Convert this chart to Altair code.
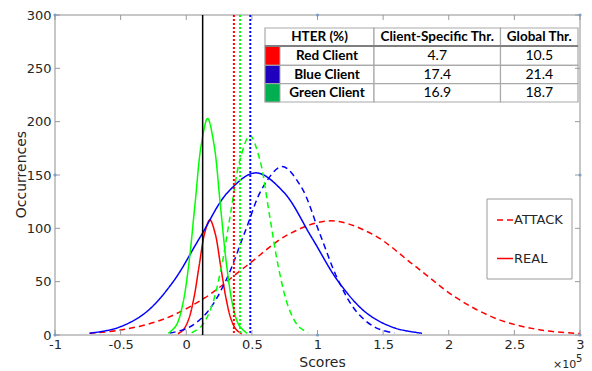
import altair as alt
import pandas as pd

# ---------------- data ----------------
red_real_x = [-0.063, -0.023, 0.018, 0.059, 0.099, 0.14, 0.18, 0.22, 0.261, 0.302, 0.342, 0.383, 0.423]
red_real_y = [1.2, 4.7, 14.6, 35.1, 65.5, 95.3, 108, 95.3, 65.5, 35.1, 14.6, 4.7, 1.2]

red_attack_x = [-0.737, -0.5, -0.18, 0.14, 0.46, 0.78, 1.1, 1.42, 1.74, 2.06, 2.38, 2.7, 3.0]
red_attack_y = [1.7, 4.7, 14.5, 34.7, 64.9, 94.4, 107, 94.4, 64.9, 34.7, 14.5, 4.7, 1.3]

blue_real_x = [-0.736, -0.525, -0.314, -0.103, 0.108, 0.319, 0.53, 0.741, 0.952, 1.163, 1.374, 1.585, 1.796]
blue_real_y = [1.7, 6.7, 20.6, 49.4, 92.2, 134.1, 152, 134.1, 92.2, 49.4, 20.6, 6.7, 1.7]

blue_attack_x = [-0.125, 0.018, 0.16, 0.303, 0.445, 0.588, 0.73, 0.873, 1.015, 1.158, 1.3, 1.443, 1.585]
blue_attack_y = [1.8, 6.9, 21.4, 51.3, 95.8, 139.4, 158, 139.4, 95.8, 51.3, 21.4, 6.9, 1.8]

green_real_x = [-0.137, -0.077, -0.029, 0.019, 0.067, 0.115, 0.163, 0.211, 0.259, 0.307, 0.355, 0.403, 0.463]
green_real_y = [1.5, 8.9, 27.5, 65.9, 123, 179, 203, 179, 123, 65.9, 27.5, 8.9, 1.5]

green_attack_x = [0.041, 0.115, 0.189, 0.263, 0.337, 0.411, 0.485, 0.559, 0.633, 0.707, 0.781, 0.855, 0.929]
green_attack_y = [2.1, 8.2, 25.3, 60.7, 113.4, 165, 187, 165, 113.4, 60.7, 25.3, 8.2, 2.1]

threshold_x = [0.125, 0.363, 0.41, 0.488]
threshold_kind = ["global", "red", "green", "blue"]

x_ticks = [-1, -0.5, 0, 0.5, 1, 1.5, 2, 2.5, 3]
y_ticks = [0, 50, 100, 150, 200, 250, 300]

table_header = ["HTER (%)", "Client-Specific  Thr.", "Global  Thr."]
table_clients = ["Red Client", "Blue Client", "Green Client"]
table_client_specific = ["4.7", "17.4", "16.9"]
table_global = ["10.5", "21.4", "18.7"]

legend_labels = ["ATTACK", "REAL"]

marker_x = [-1, 1, 3, -1, 1, 3, -1, 3]
marker_y = [0, 0, 0, 300, 300, 300, 150, 150]

# ---------------- styling ----------------
W, H = 525, 320
RED, BLUE, GREEN = "#ff0000", "#0000ff", "#00ff00"
TXT = "#262626"
FONT = "DejaVu Sans"
TFONT = "Lato"

curve_defs = [
    ("red_real", RED, "REAL", red_real_x, red_real_y),
    ("red_attack", RED, "ATTACK", red_attack_x, red_attack_y),
    ("blue_real", BLUE, "REAL", blue_real_x, blue_real_y),
    ("blue_attack", BLUE, "ATTACK", blue_attack_x, blue_attack_y),
    ("green_real", GREEN, "REAL", green_real_x, green_real_y),
    ("green_attack", GREEN, "ATTACK", green_attack_x, green_attack_y),
]
rows = []
for name, col, kind, xv, yv in curve_defs:
    for i, (a, b) in enumerate(zip(xv, yv)):
        rows.append({"series": name, "color": col, "kind": kind, "x": a, "y": b, "i": i})
curves_df = pd.DataFrame(rows)

xs = alt.Scale(domain=[-1, 3], nice=False, zero=False)
ys = alt.Scale(domain=[0, 300], nice=False, zero=False)

curves = alt.Chart(curves_df).mark_line(strokeWidth=1.5, interpolate="catmull-rom", clip=True).encode(
    x=alt.X("x:Q", scale=xs, axis=alt.Axis(
        values=x_ticks, labelExpr="datum.value + ''", title="Scores", labelFlush=False,
        titleX=267, titleY=27, titleAlign="center", titleBaseline="middle",
        labelPadding=3)),
    y=alt.Y("y:Q", scale=ys, axis=alt.Axis(
        values=y_ticks, title="Occurrences", labelFlush=False,
        titleX=-34, titleY=159, titleAngle=-90, titleAlign="center", titleBaseline="middle",
        labelPadding=4)),
    color=alt.Color("color:N", scale=None),
    strokeDash=alt.StrokeDash("kind:N", scale=alt.Scale(domain=["REAL", "ATTACK"], range=[[1, 0], [6, 4]]), legend=None),
    detail="series:N",
    order="i:Q",
)

# threshold lines
thr_color = {"global": "#000000", "red": RED, "green": GREEN, "blue": BLUE}
thr_df = pd.DataFrame({"x": threshold_x, "kind": threshold_kind,
                       "color": [thr_color[k] for k in threshold_kind]})
thr_solid = alt.Chart(thr_df[thr_df.kind == "global"]).mark_rule(strokeWidth=1.5).encode(
    x=alt.X("x:Q", scale=xs), color=alt.Color("color:N", scale=None))
thr_dotted = alt.Chart(thr_df[thr_df.kind != "global"]).mark_rule(strokeWidth=2, strokeDash=[2, 2]).encode(
    x=alt.X("x:Q", scale=xs), color=alt.Color("color:N", scale=None))

# inward tick marks (box style)
xt_df = pd.DataFrame({"x": x_ticks})
yt_df = pd.DataFrame({"y": y_ticks})
TICKC = "#9a9a9a"
tick_bottom = alt.Chart(xt_df).mark_rule(color=TICKC, strokeWidth=1).encode(
    x=alt.X("x:Q", scale=xs), y=alt.value(H), y2=alt.value(H - 5))
tick_top = alt.Chart(xt_df).mark_rule(color=TICKC, strokeWidth=1).encode(
    x=alt.X("x:Q", scale=xs), y=alt.value(0), y2=alt.value(5))
tick_left = alt.Chart(yt_df).mark_rule(color=TICKC, strokeWidth=1).encode(
    y=alt.Y("y:Q", scale=ys), x=alt.value(0), x2=alt.value(5))
tick_right = alt.Chart(yt_df).mark_rule(color=TICKC, strokeWidth=1).encode(
    y=alt.Y("y:Q", scale=ys), x=alt.value(W), x2=alt.value(W - 5))

markers = alt.Chart(pd.DataFrame({"x": marker_x, "y": marker_y})).mark_point(
    filled=True, size=10, color="#7d9ec4", opacity=1).encode(
    x=alt.X("x:Q", scale=xs), y=alt.Y("y:Q", scale=ys))

# ---------------- table (pixel layout) ----------------
col_edges = [210, 319, 445.5, 523]
row_edges = [13, 31, 50.3, 68.7, 87]
sw_right = 225
cells = []
for r in range(4):
    for c in range(3):
        cells.append({"x": col_edges[c], "x2": col_edges[c + 1], "y": row_edges[r], "y2": row_edges[r + 1]})
cells_df = pd.DataFrame(cells)
table_cells = alt.Chart(cells_df).mark_rect(fill="white", stroke="#a9a9a9", strokeWidth=1.2).encode(
    x=alt.X("x:Q", scale=None), x2="x2:Q", y=alt.Y("y:Q", scale=None), y2="y2:Q")
sw_df = pd.DataFrame({"x": [col_edges[0]] * 3, "x2": [sw_right] * 3,
                      "y": row_edges[1:4], "y2": row_edges[2:5],
                      "color": ["#ff0000", "#1e00be", "#00b050"]})
swatches = alt.Chart(sw_df).mark_rect(stroke="#a9a9a9", strokeWidth=1).encode(
    x=alt.X("x:Q", scale=None), x2="x2:Q", y=alt.Y("y:Q", scale=None), y2="y2:Q",
    fill=alt.Fill("color:N", scale=None))
hdr_line = alt.Chart(pd.DataFrame({"x": [col_edges[0]], "x2": [col_edges[3]], "y": [row_edges[1]]})).mark_rule(
    color="#7f7f7f", strokeWidth=2.2).encode(
    x=alt.X("x:Q", scale=None), x2="x2:Q", y=alt.Y("y:Q", scale=None))

ymid = [(row_edges[i] + row_edges[i + 1]) / 2 for i in range(4)]
bold_txt = [
    {"t": table_header[0], "x": (col_edges[0] + col_edges[1]) / 2, "y": ymid[0]},
    {"t": table_header[1], "x": (col_edges[1] + col_edges[2]) / 2, "y": ymid[0]},
    {"t": table_header[2], "x": (col_edges[2] + col_edges[3]) / 2, "y": ymid[0]},
]
for i, n in enumerate(table_clients):
    bold_txt.append({"t": n, "x": (sw_right + col_edges[1]) / 2, "y": ymid[i + 1]})
reg_txt = []
for i in range(3):
    reg_txt.append({"t": table_client_specific[i], "x": (col_edges[1] + col_edges[2]) / 2, "y": ymid[i + 1]})
    reg_txt.append({"t": table_global[i], "x": (col_edges[2] + col_edges[3]) / 2, "y": ymid[i + 1]})
table_bold = alt.Chart(pd.DataFrame(bold_txt)).mark_text(
    font=TFONT, fontSize=13.5, fontWeight="bold", color="#000000", align="center", baseline="middle").encode(
    x=alt.X("x:Q", scale=None), y=alt.Y("y:Q", scale=None), text="t:N")
table_reg = alt.Chart(pd.DataFrame(reg_txt)).mark_text(
    font=TFONT, fontSize=14, color="#000000", align="center", baseline="middle").encode(
    x=alt.X("x:Q", scale=None), y=alt.Y("y:Q", scale=None), text="t:N")

# ---------------- legend box ----------------
leg_box = alt.Chart(pd.DataFrame({"x": [432], "x2": [517], "y": [184], "y2": [264]})).mark_rect(
    fill="white", stroke="#9a9a9a", strokeWidth=1).encode(
    x=alt.X("x:Q", scale=None), x2="x2:Q", y=alt.Y("y:Q", scale=None), y2="y2:Q")
leg_lines_df = pd.DataFrame({"x": [442, 442], "x2": [458, 458], "y": [205, 243.5], "kind": legend_labels})
leg_line_attack = alt.Chart(leg_lines_df[leg_lines_df.kind == "ATTACK"]).mark_rule(
    color=RED, strokeWidth=1.5, strokeDash=[6, 4]).encode(
    x=alt.X("x:Q", scale=None), x2="x2:Q", y=alt.Y("y:Q", scale=None))
leg_line_real = alt.Chart(leg_lines_df[leg_lines_df.kind == "REAL"]).mark_rule(
    color=RED, strokeWidth=1.5).encode(
    x=alt.X("x:Q", scale=None), x2="x2:Q", y=alt.Y("y:Q", scale=None))
leg_text = alt.Chart(pd.DataFrame({"t": legend_labels, "x": [459, 459], "y": [205, 243.5]})).mark_text(
    font=FONT, fontSize=13, color=TXT, align="left", baseline="middle").encode(
    x=alt.X("x:Q", scale=None), y=alt.Y("y:Q", scale=None), text="t:N")

# exponent label
exp_base = alt.Chart(pd.DataFrame({"t": ["×10"], "x": [498], "y": [350]})).mark_text(
    font=FONT, fontSize=11, color=TXT, align="left", baseline="middle").encode(
    x=alt.X("x:Q", scale=None), y=alt.Y("y:Q", scale=None), text="t:N")
exp_pow = alt.Chart(pd.DataFrame({"t": ["5"], "x": [521], "y": [344]})).mark_text(
    font=FONT, fontSize=10, color=TXT, align="left", baseline="middle").encode(
    x=alt.X("x:Q", scale=None), y=alt.Y("y:Q", scale=None), text="t:N")

chart = alt.layer(
    curves, thr_solid, thr_dotted,
    table_cells, swatches, hdr_line, table_bold, table_reg,
    leg_box, leg_line_attack, leg_line_real, leg_text,
    tick_bottom, tick_top, tick_left, tick_right, markers,
    exp_base, exp_pow,
).properties(
    width=W, height=H,
    padding={"left": 47, "top": 7, "right": 4, "bottom": 36},
    autosize=alt.AutoSizeParams(type="none"),
    background="white",
).configure_view(
    stroke="#b5b5b5", strokeWidth=1.5,
).configure_axis(
    domain=False, ticks=False, tickSize=0, grid=False,
    labelFont=FONT, labelFontSize=13, labelColor=TXT,
    titleFont=FONT, titleFontSize=14, titleColor=TXT, titleFontWeight="normal",
)

chart.save("out.html", embed_options={"renderer": "svg", "actions": False})
